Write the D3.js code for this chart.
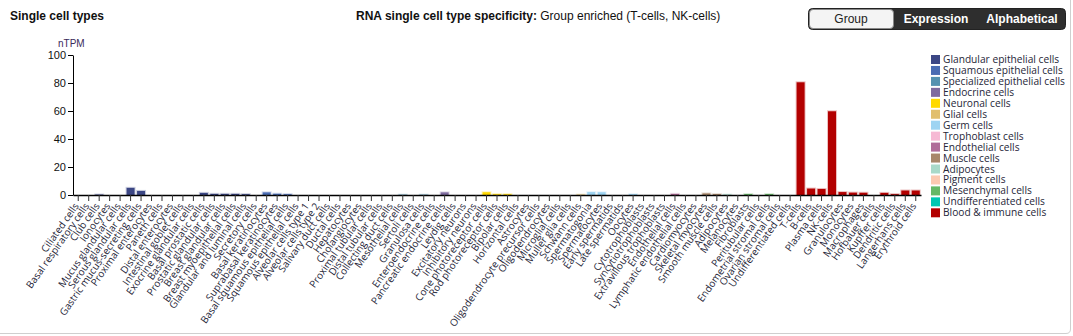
<!DOCTYPE html>
<html>
<head>
<meta charset="utf-8">
<script src="https://cdn.jsdelivr.net/npm/d3@7/dist/d3.min.js"></script>
<style>
  html, body { margin: 0; padding: 0; background: #fff; }
  svg { display: block; font-family: "Liberation Sans", Arial, sans-serif; }
  .xlab { font-family: "Open Sans", "Noto Sans", sans-serif; font-size: 10px; fill: #262638; }
  .leg { font-family: "Open Sans", "Noto Sans", sans-serif; font-size: 10.2px; fill: #262638; }
</style>
</head>
<body>
<div id="chart"></div>
<script>
// Cell types in display order, with their group and nTPM value
const cellTypes = [
  "Ciliated cells", "Basal respiratory cells", "Club cells", "Ionocytes",
  "Mucus glandular cells", "Serous glandular cells", "Gastric mucus-secreting cells",
  "Proximal enterocytes", "Paneth cells", "Distal enterocytes", "Intestinal goblet cells",
  "Exocrine glandular cells", "Basal prostatic cells", "Prostatic glandular cells",
  "Breast glandular cells", "Breast myoepithelial cells", "Glandular and luminal cells",
  "Secretory cells", "Basal keratinocytes", "Suprabasal keratinocytes",
  "Basal squamous epithelial cells", "Squamous epithelial cells",
  "Alveolar cells type 1", "Alveolar cells type 2", "Salivary duct cells", "Ductal cells",
  "Hepatocytes", "Cholangiocytes", "Proximal tubular cells", "Distal tubular cells",
  "Collecting duct cells", "Mesothelial cells", "Sertoli cells", "Granulosa cells",
  "Enteroendocrine cells", "Pancreatic endocrine cells", "Leydig cells",
  "Excitatory neurons", "Inhibitory neurons", "Cone photoreceptor cells",
  "Rod photoreceptor cells", "Bipolar cells", "Horizontal cells",
  "Astrocytes", "Oligodendrocyte precursor cells", "Oligodendrocytes", "Microglial cells",
  "Muller glia cells", "Schwann cells",
  "Spermatogonia", "Spermatocytes", "Early spermatids", "Late spermatids", "Oocytes",
  "Cytotrophoblasts", "Syncytiotrophoblasts", "Extravillous trophoblasts",
  "Endothelial cells", "Lymphatic endothelial cells",
  "Cardiomyocytes", "Skeletal myocytes", "Smooth muscle cells",
  "Adipocytes", "Melanocytes",
  "Fibroblasts", "Peritubular cells", "Endometrial stromal cells", "Ovarian stromal cells",
  "Undifferentiated cells",
  "T-cells", "B-cells", "Plasma cells", "NK-cells", "Granulocytes", "Monocytes",
  "Macrophages", "Hofbauer cells", "Kupffer cells", "Dendritic cells",
  "Langerhans cells", "Erythroid cells"
];

const cellGroups = [
  0,0,0,0,0,0,0,0,0,0,0,0,0,0,0,0,0,0,
  1,1,1,1,
  2,2,2,2,2,2,2,2,2,2,2,2,
  3,3,3,
  4,4,4,4,4,4,
  5,5,5,5,5,5,
  6,6,6,6,6,
  7,7,7,
  8,8,
  9,9,9,
  10,
  11,
  12,12,12,12,
  13,
  14,14,14,14,14,14,14,14,14,14,14,14
];

const nTPM = [
  0, 0, 0.3, 0, 0, 5.1, 2.9, 0, 0, 0, 0, 0, 1.5, 0.8, 0.8, 0.8, 0.6, 0,
  1.9, 0.9, 0.6, 0,
  0, 0, 0, 0, 0, 0, 0, 0, 0, 0.2, 0, 0.2,
  0, 1.9, 0,
  0, 0, 2.0, 0.6, 0.6, 0,
  0, 0, 0, 0, 0, 0.3,
  2.1, 2.0, 0, 0, 0.6,
  0, 0, 0,
  0.8, 0,
  0, 1.2, 0.7,
  0.4,
  0,
  0.7, 0, 0.7, 0,
  0,
  80.5, 4.6, 4.3, 59.8, 2.1, 1.7, 1.6, 0, 1.5, 0.6, 3.2, 3.2
];

const groupNames = [
  "Glandular epithelial cells", "Squamous epithelial cells", "Specialized epithelial cells",
  "Endocrine cells", "Neuronal cells", "Glial cells", "Germ cells", "Trophoblast cells",
  "Endothelial cells", "Muscle cells", "Adipocytes", "Pigment cells",
  "Mesenchymal cells", "Undifferentiated cells", "Blood & immune cells"
];
const groupColors = [
  "#3c4785", "#4a6cb3", "#5592b0", "#7e6b9f", "#ffd900", "#e1bf6e", "#9ed4f2",
  "#f6b9d4", "#b06c99", "#a8876a", "#a9d9c9", "#fcc9b1", "#66b866", "#00c7b2", "#b30000"
];

const yTicks = [0, 20, 40, 60, 80, 100];

const W = 1073, H = 336;
const svg = d3.select("#chart").append("svg").attr("width", W).attr("height", H);

// Clip for the panel content (legend text is cut at the panel edge)
svg.append("clipPath").attr("id", "panel")
  .append("rect").attr("x", 0).attr("y", 0).attr("width", 1066).attr("height", H);

// Header
svg.append("text").attr("x", 10).attr("y", 20)
  .attr("font-size", 12).attr("font-weight", "bold").attr("fill", "#111")
  .text("Single cell types");

const title = svg.append("text").attr("x", 356).attr("y", 20).attr("font-size", 12).attr("fill", "#111");
title.append("tspan").attr("font-weight", "bold").text("RNA single cell type specificity:");
title.append("tspan").text(" Group enriched (T-cells, NK-cells)");

// Sort buttons
const btn = svg.append("g");
btn.append("rect").attr("x", 808.5).attr("y", 8.5).attr("width", 257).attr("height", 21)
  .attr("rx", 4).attr("fill", "#2e2e2e").attr("stroke", "#222");
btn.append("rect").attr("x", 809.5).attr("y", 9.5).attr("width", 84).attr("height", 19)
  .attr("rx", 3.5).attr("fill", "#f4f4f4").attr("stroke", "#888");
const btnLabels = [["Group", 851, "normal", "#222"], ["Expression", 936, "bold", "#fff"], ["Alphabetical", 1022, "bold", "#fff"]];
btn.selectAll("text.btn").data(btnLabels).join("text")
  .attr("x", d => d[1]).attr("y", 23)
  .attr("text-anchor", "middle").attr("font-size", 12)
  .attr("font-weight", d => d[2]).attr("fill", d => d[3])
  .text(d => d[0]);

// Scales
const x = d3.scaleBand().domain(cellTypes).range([73, 921]).paddingInner(0).paddingOuter(0);
const y = d3.scaleLinear().domain([0, 100]).range([195, 55]);

// Y axis
const yAxis = svg.append("g").attr("transform", "translate(73,0)")
  .call(d3.axisLeft(y).tickValues(yTicks).tickSize(5).tickPadding(2).tickSizeOuter(0));
yAxis.select(".domain").attr("stroke", "#000");
yAxis.selectAll("text").attr("font-family", "Liberation Sans, Arial, sans-serif")
  .attr("font-size", 11).attr("fill", "#111");
svg.append("text").attr("x", 58).attr("y", 47).attr("font-size", 10).attr("fill", "#3a2a5a").text("nTPM");

// Bars
const bw = 8;
svg.append("g").selectAll("rect").data(cellTypes.map((c, i) => ({c, v: nTPM[i], g: cellGroups[i]})).filter(d => d.v > 0))
  .join("rect")
  .attr("x", d => x(d.c) + (x.bandwidth() - bw) / 2)
  .attr("y", d => y(d.v))
  .attr("width", bw)
  .attr("height", d => y(0) - y(d.v))
  .attr("fill", d => groupColors[d.g])
  .attr("stroke", d => groupColors[d.g])
  .attr("stroke-opacity", 0.25)
  .attr("stroke-width", 2);

// X axis
const xAxis = svg.append("g").attr("transform", "translate(0,195)")
  .call(d3.axisBottom(x).tickSize(6).tickSizeOuter(0).tickFormat(""));
xAxis.select(".domain").attr("stroke", "#000").attr("stroke-width", 1.5);
xAxis.selectAll(".tick line").attr("stroke", "#333");

svg.append("g").selectAll("text").data(cellTypes).join("text")
  .attr("class", "xlab")
  .attr("text-anchor", "end")
  .attr("transform", d => `translate(${x(d) + x.bandwidth() / 2 + 1},${206}) rotate(-55)`)
  .text(d => d);

// Legend
const leg = svg.append("g").attr("clip-path", "url(#panel)")
  .append("g").attr("transform", "translate(931,55)");
const li = leg.selectAll("g").data(groupNames).join("g")
  .attr("transform", (d, i) => `translate(0,${i * 10.95})`);
li.append("rect").attr("width", 9).attr("height", 9).attr("fill", (d, i) => groupColors[i]);
li.append("text").attr("class", "leg").attr("x", 12).attr("y", 8).text(d => d);

// Panel frame (bottom and right edge with rounded corner)
svg.append("path")
  .attr("d", `M0,${H - 2.5} H${W - 7} Q${W - 2.5},${H - 2.5} ${W - 2.5},${H - 7} V0`)
  .attr("fill", "none").attr("stroke", "#cfcfcf");
</script>
</body>
</html>
